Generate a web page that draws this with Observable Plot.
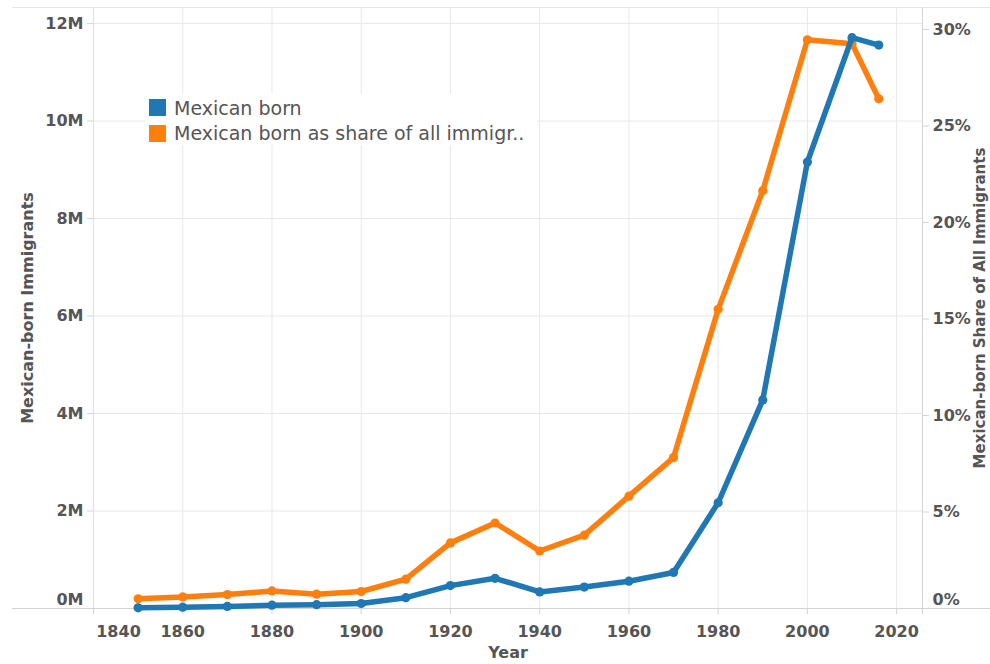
<!DOCTYPE html>
<html>
<head>
<meta charset="utf-8">
<script src="https://cdn.jsdelivr.net/npm/d3@7"></script>
<script src="https://cdn.jsdelivr.net/npm/@observablehq/plot@0.6"></script>
<style>
  body { margin: 0; background: #fff; }
  #wrap { position: relative; width: 990px; height: 664px; overflow: hidden; font-family: "DejaVu Sans", Verdana, sans-serif; }
  #legend { position: absolute; left: 145px; top: 94px; width: 392px; height: 51px; background: #fff; }
  .sw { position: absolute; left: 4px; width: 17px; height: 17px; }
  .lt { position: absolute; left: 29px; font-size: 19px; line-height: 19px; color: #555; white-space: nowrap; }
</style>
</head>
<body>
<div id="wrap">
  <div id="chart"></div>
  <div id="legend"></div>
</div>
<script>
// ---- data ----
const years = [1850, 1860, 1870, 1880, 1890, 1900, 1910, 1920, 1930, 1940, 1950, 1960, 1970, 1980, 1990, 2000, 2010, 2016];
const mexicanBorn = [13000, 27000, 42000, 68000, 78000, 103000, 222000, 470000, 620000, 340000, 440000, 560000, 740000, 2170000, 4280000, 9160000, 11710000, 11560000];
const sharePct = [0.5, 0.6, 0.72, 0.91, 0.74, 0.88, 1.52, 3.4, 4.43, 2.98, 3.8, 5.82, 7.82, 15.5, 21.65, 29.47, 29.26, 26.41];
const leftTicks = [0, 2e6, 4e6, 6e6, 8e6, 10e6, 12e6];
const rightTicks = [0, 5, 10, 15, 20, 25, 30];
const yearTicks = [1840, 1860, 1880, 1900, 1920, 1940, 1960, 1980, 2000, 2020];
const seriesNames = ["Mexican born", "Mexican born as share of all immigr.."];
const seriesColors = ["#1f77b4", "#ff7f0e"];
const leftTitle = "Mexican-born Immigrants";
const rightTitle = "Mexican-born Share of All Immigrants";
const xTitle = "Year";

// ---- dual-axis mapping ----
const yMax = 12.33e6;
const shareMax = 31.14;
const k = yMax / shareMax;
const xDomain = [1840, 2025.8];

const rows = years.map((year, i) => ({year, count: mexicanBorn[i], shareScaled: sharePct[i] * k}));

const tickText = {fill: "#555", color: "#555", fontSize: 16, fontWeight: "bold", label: null};
const titleText = {fill: "#555", fontSize: 16, fontWeight: "bold", textAnchor: "middle"};

const chart = Plot.plot({
  width: 990,
  height: 664,
  marginTop: 7,
  marginBottom: 56,
  marginLeft: 93,
  marginRight: 68,
  style: {fontFamily: "DejaVu Sans, Verdana, sans-serif", background: "#fff", color: "#555"},
  x: {domain: xDomain},
  y: {domain: [0, yMax]},
  marks: [
    Plot.gridY(leftTicks.slice(1), {stroke: "#e8e8e8", strokeOpacity: 1}),
    Plot.gridX(yearTicks.slice(1), {stroke: "#e8e8e8", strokeOpacity: 1}),
    Plot.ruleX([xDomain[0]], {stroke: "#e0e0e0"}),
    Plot.ruleY([yMax], {stroke: "#e6e6e6", insetLeft: -81, insetRight: -68}),
    Plot.ruleX([xDomain[1]], {stroke: "#d4d4d4", insetBottom: -6}),
    Plot.ruleY([0], {stroke: "#d4d4d4", insetLeft: -81, insetRight: -68}),
    // left axis
    Plot.axisY(leftTicks.slice(1), {anchor: "left", tickSize: 6, tickPadding: 4, stroke: "#d4d4d4", tickFormat: d => (d / 1e6) + "M", ...tickText}),
    Plot.axisY([0], {anchor: "left", tickSize: 0, tickPadding: 10, dy: -9, tickFormat: d => (d / 1e6) + "M", ...tickText}),
    // right axis
    Plot.axisY(rightTicks.slice(1).map(p => p * k), {anchor: "right", tickSize: 6, tickPadding: 4, stroke: "#d4d4d4", tickFormat: d => Math.round(d / k) + "%", ...tickText}),
    Plot.axisY([0], {anchor: "right", tickSize: 0, tickPadding: 10, dy: -9, tickFormat: d => Math.round(d / k) + "%", ...tickText}),
    // x axis
    Plot.axisX(yearTicks, {tickSize: 6, tickPadding: 11, stroke: "#d4d4d4", tickFormat: d => d === yearTicks[0] ? "" : String(d), ...tickText}),
    Plot.axisX([yearTicks[0]], {tickSize: 0, tickPadding: 17, dx: 25, tickFormat: d => String(d), ...tickText}),
    // titles
    Plot.text([leftTitle], {frameAnchor: "left", dx: -72, rotate: -90, lineAnchor: "top", ...titleText}),
    Plot.text([rightTitle], {frameAnchor: "right", dx: 52, rotate: -90, lineAnchor: "top", ...titleText, fontSize: 15}),
    Plot.text([xTitle], {frameAnchor: "bottom", dy: 38, lineAnchor: "top", ...titleText}),
    // series
    Plot.line(rows, {x: "year", y: "shareScaled", stroke: seriesColors[1], strokeWidth: 5.5}),
    Plot.dot(rows, {x: "year", y: "shareScaled", r: 4.6, fill: seriesColors[1]}),
    Plot.line(rows, {x: "year", y: "count", stroke: seriesColors[0], strokeWidth: 5.5}),
    Plot.dot(rows, {x: "year", y: "count", r: 4.6, fill: seriesColors[0]})
  ]
});
document.getElementById("chart").appendChild(chart);

// legend
const legend = document.getElementById("legend");
seriesNames.forEach((name, i) => {
  const sw = document.createElement("div");
  sw.className = "sw";
  sw.style.top = (5 + i * 26) + "px";
  sw.style.background = seriesColors[i];
  legend.appendChild(sw);
  const t = document.createElement("div");
  t.className = "lt";
  t.style.top = (5 + i * 25) + "px";
  t.textContent = name;
  legend.appendChild(t);
});
</script>
</body>
</html>
